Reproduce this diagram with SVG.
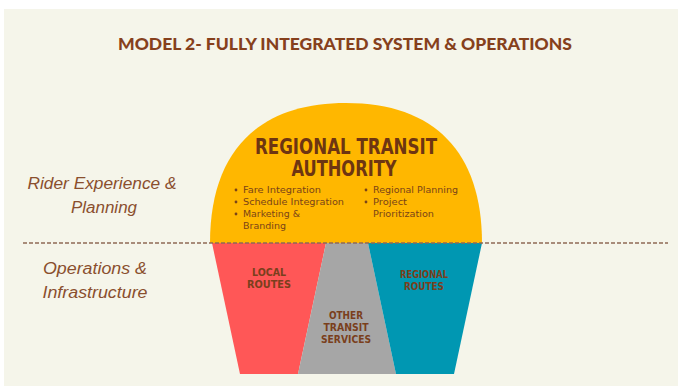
<svg xmlns="http://www.w3.org/2000/svg" width="678" height="386" viewBox="0 0 678 386">
<style>
.title{font-family:Lato,"Liberation Sans",sans-serif;font-weight:900;font-size:17px;fill:#86401c}
.side{font-family:"Liberation Sans",Arial,sans-serif;font-style:italic;font-size:16px;fill:#8a4f2e}
.rta{font-family:"DejaVu Sans Condensed","DejaVu Sans",sans-serif;font-weight:bold;font-size:21px;fill:#6e3512}
.bul{font-family:"DejaVu Sans","Liberation Sans",sans-serif;font-size:9.2px;fill:#7a4418}
.seg{font-family:"DejaVu Sans Condensed","DejaVu Sans",sans-serif;font-weight:bold;font-size:11px;fill:#7a3f1c;text-anchor:middle}
.dot{fill:#7a4418}
</style>
<rect x="0" y="0" width="678" height="386" fill="#ffffff"/>
<rect x="4" y="9" width="674" height="377" fill="#f5f5ea"/>
<text class="title" x="345" y="50" text-anchor="middle" textLength="454" lengthAdjust="spacingAndGlyphs">MODEL 2- FULLY INTEGRATED SYSTEM &amp; OPERATIONS</text>

<g id="side-labels">
<text class="side" x="102" y="189" text-anchor="middle" textLength="149" lengthAdjust="spacingAndGlyphs">Rider Experience &amp;</text>
<text class="side" x="104" y="213" text-anchor="middle" textLength="66" lengthAdjust="spacingAndGlyphs">Planning</text>
<text class="side" x="95" y="274" text-anchor="middle" textLength="104" lengthAdjust="spacingAndGlyphs">Operations &amp;</text>
<text class="side" x="95" y="298" text-anchor="middle" textLength="105" lengthAdjust="spacingAndGlyphs">Infrastructure</text>
</g>

<g id="rta">
<path d="M210,243 C210,152 257.6,103 346,103 C434.4,103 482,152 482,243 Z" fill="#ffb700"/>
<text class="rta" x="346" y="154" text-anchor="middle" textLength="182" lengthAdjust="spacingAndGlyphs">REGIONAL TRANSIT</text>
<text class="rta" x="344" y="176" text-anchor="middle" textLength="105" lengthAdjust="spacingAndGlyphs">AUTHORITY</text>
<circle class="dot" cx="236" cy="190" r="1.4"/>
<circle class="dot" cx="236" cy="202" r="1.4"/>
<circle class="dot" cx="236" cy="214" r="1.4"/>
<circle class="dot" cx="366" cy="190" r="1.4"/>
<circle class="dot" cx="366" cy="202" r="1.4"/>
<text class="bul" x="243" y="193" textLength="78" lengthAdjust="spacingAndGlyphs">Fare Integration</text>
<text class="bul" x="243" y="205" textLength="101" lengthAdjust="spacingAndGlyphs">Schedule Integration</text>
<text class="bul" x="243" y="217" textLength="57" lengthAdjust="spacingAndGlyphs">Marketing &amp;</text>
<text class="bul" x="243" y="229" textLength="43" lengthAdjust="spacingAndGlyphs">Branding</text>
<text class="bul" x="373" y="193" textLength="85" lengthAdjust="spacingAndGlyphs">Regional Planning</text>
<text class="bul" x="373" y="205" textLength="34" lengthAdjust="spacingAndGlyphs">Project</text>
<text class="bul" x="373" y="217" textLength="61" lengthAdjust="spacingAndGlyphs">Prioritization</text>
</g>

<g id="local-routes">
<polygon points="212,243 326,243 298,374 240,374" fill="#ff5757"/>
<text class="seg" x="269" y="276" textLength="34" lengthAdjust="spacingAndGlyphs">LOCAL</text>
<text class="seg" x="269" y="288" textLength="44" lengthAdjust="spacingAndGlyphs">ROUTES</text>
</g>

<g id="other-transit">
<polygon points="326,243 368,243 396,374 298,374" fill="#a6a6a6"/>
<text class="seg" x="346" y="319" textLength="34" lengthAdjust="spacingAndGlyphs">OTHER</text>
<text class="seg" x="346" y="331" textLength="45" lengthAdjust="spacingAndGlyphs">TRANSIT</text>
<text class="seg" x="346" y="343" textLength="50" lengthAdjust="spacingAndGlyphs">SERVICES</text>
</g>

<g id="regional-routes">
<polygon points="368,243 482,243 454,374 396,374" fill="#0097b2"/>
<text class="seg" x="424" y="278" textLength="48" lengthAdjust="spacingAndGlyphs">REGIONAL</text>
<text class="seg" x="424" y="290" textLength="40" lengthAdjust="spacingAndGlyphs">ROUTES</text>
</g>

<g id="connectors">
<line x1="23" y1="243" x2="668" y2="243" stroke="#8e6a55" stroke-width="1.6" stroke-dasharray="4,2"/>
</g>
</svg>
